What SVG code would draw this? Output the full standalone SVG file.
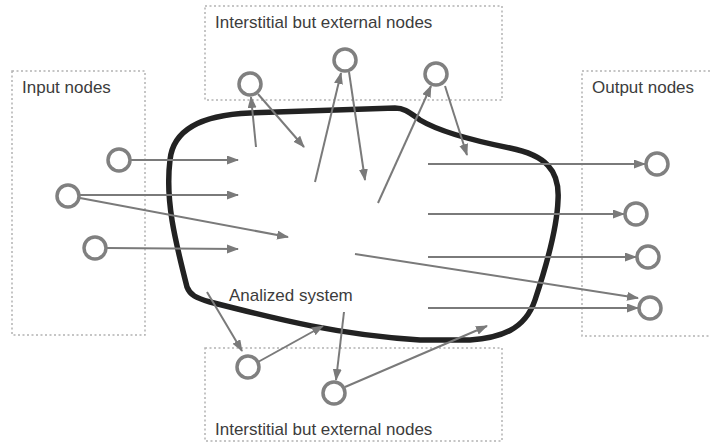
<svg xmlns="http://www.w3.org/2000/svg" width="710" height="447" viewBox="0 0 710 447">
<style>
.box{fill:none;stroke:#b3b3b3;stroke-width:1.5;stroke-dasharray:2 2.5}
.lbl{font-family:"Liberation Sans",Arial,sans-serif;font-size:17px;fill:#3c3c3c}
.node{fill:#fff;stroke:#808080;stroke-width:3.5}
.c{stroke:#7a7a7a;stroke-width:2;fill:none;marker-end:url(#ah)}
.sys{fill:none;stroke:#222;stroke-width:5.5;stroke-linejoin:round}
</style>
<defs>
<marker id="ah" markerUnits="userSpaceOnUse" markerWidth="12" markerHeight="10" refX="11" refY="4.5" orient="auto">
<path d="M0,0 L12,4.5 L0,9 Z" fill="#7a7a7a"/>
</marker>
</defs>
<rect width="710" height="447" fill="#fff"/>
<g id="areas">
<rect class="box" x="12" y="71" width="133" height="264"/>
<rect class="box" x="205" y="6" width="297" height="94"/>
<rect class="box" x="582" y="71" width="140" height="265"/>
<rect class="box" x="205" y="348" width="297" height="93"/>
</g>
<g id="system">
<path class="sys" d="M250,113 L395,108 C405,108 410,113 420,120 C440,132 470,140 510,148 C545,155 560,170 558,200 C557,230 545,270 535,300 C525,330 500,338 470,340 L420,340 C340,335 280,320 210,302 C196,298 190,295 187,287 C175,240 165,200 170,160 C173,130 200,115 250,113 Z"/>
</g>
<g id="labels">
<text class="lbl" x="215" y="28">Interstitial but external nodes</text>
<text class="lbl" x="22" y="93">Input nodes</text>
<text class="lbl" x="592" y="93">Output nodes</text>
<text class="lbl" x="229" y="301">Analized system</text>
<text class="lbl" x="215" y="435">Interstitial but external nodes</text>
</g>
<g id="connectors">
<line class="c" x1="131" y1="160" x2="238" y2="160"/>
<line class="c" x1="80" y1="195" x2="238" y2="195"/>
<line class="c" x1="80" y1="198" x2="288" y2="237"/>
<line class="c" x1="107" y1="248" x2="238" y2="249"/>
<line class="c" x1="256" y1="147" x2="251" y2="97"/>
<line class="c" x1="258" y1="94" x2="304" y2="147"/>
<line class="c" x1="315" y1="182" x2="341" y2="73"/>
<line class="c" x1="349" y1="72" x2="365" y2="180"/>
<line class="c" x1="378" y1="203" x2="431" y2="86"/>
<line class="c" x1="445" y1="86" x2="467" y2="155"/>
<line class="c" x1="428" y1="164" x2="645" y2="164"/>
<line class="c" x1="428" y1="214" x2="624" y2="214"/>
<line class="c" x1="428" y1="257" x2="636" y2="257"/>
<line class="c" x1="355" y1="254" x2="638" y2="298"/>
<line class="c" x1="428" y1="308" x2="638" y2="308"/>
<line class="c" x1="207" y1="292" x2="242" y2="351"/>
<line class="c" x1="258" y1="362" x2="323" y2="326"/>
<line class="c" x1="344" y1="312" x2="336" y2="380"/>
<line class="c" x1="345" y1="387" x2="487" y2="326"/>
</g>
<g id="in1"><circle class="node" cx="119" cy="160" r="11"/></g>
<g id="in2"><circle class="node" cx="68" cy="196" r="11"/></g>
<g id="in3"><circle class="node" cx="95" cy="248" r="11"/></g>
<g id="top1"><circle class="node" cx="250" cy="84" r="11"/></g>
<g id="top2"><circle class="node" cx="345" cy="60" r="11"/></g>
<g id="top3"><circle class="node" cx="436" cy="74" r="11"/></g>
<g id="out1"><circle class="node" cx="657" cy="164" r="11"/></g>
<g id="out2"><circle class="node" cx="636" cy="214" r="11"/></g>
<g id="out3"><circle class="node" cx="648" cy="257" r="11"/></g>
<g id="out4"><circle class="node" cx="650" cy="308" r="11"/></g>
<g id="bot1"><circle class="node" cx="248" cy="367" r="11"/></g>
<g id="bot2"><circle class="node" cx="334" cy="393" r="11"/></g>
</svg>
